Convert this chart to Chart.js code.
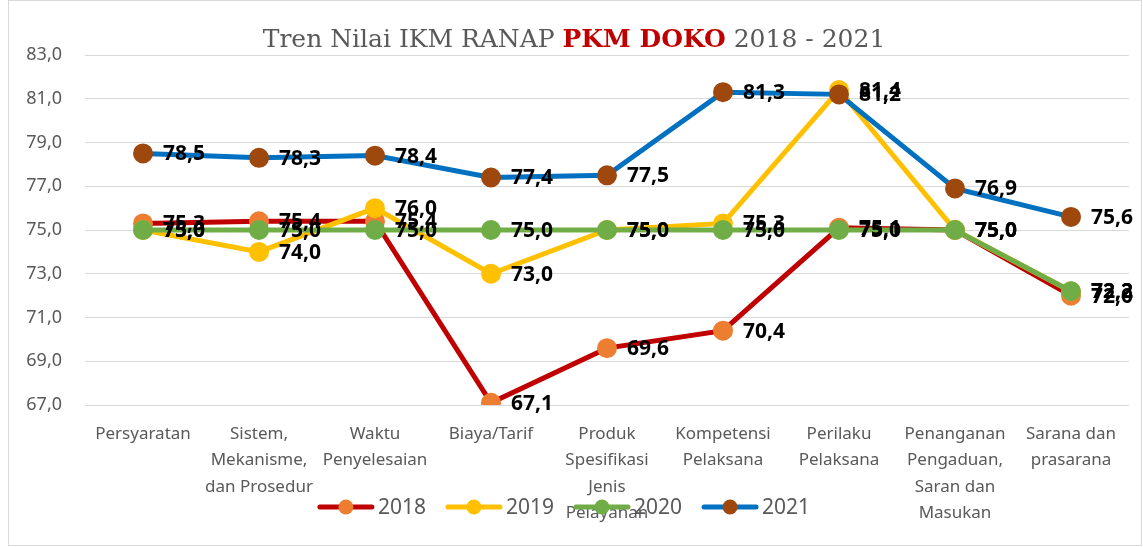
<!DOCTYPE html>
<html>
<head>
<meta charset="utf-8">
<script src="https://cdn.jsdelivr.net/npm/chart.js@4"></script>
<style>
  html, body { margin: 0; padding: 0; background: #fff; }
</style>
</head>
<body>
<canvas id="chart" width="1143" height="547"></canvas>
<script>
const categories = [
  ['Persyaratan'],
  ['Sistem,', 'Mekanisme,', 'dan Prosedur'],
  ['Waktu', 'Penyelesaian'],
  ['Biaya/Tarif'],
  ['Produk', 'Spesifikasi', 'Jenis', 'Pelayanan'],
  ['Kompetensi', 'Pelaksana'],
  ['Perilaku', 'Pelaksana'],
  ['Penanganan', 'Pengaduan,', 'Saran dan', 'Masukan'],
  ['Sarana dan', 'prasarana']
];
const years = ['2018', '2019', '2020', '2021'];
const values2018 = [75.3, 75.4, 75.4, 67.1, 69.6, 70.4, 75.1, 75.0, 72.0];
const values2019 = [75.0, 74.0, 76.0, 73.0, 75.0, 75.3, 81.4, 75.0, 72.2];
const values2020 = [75.0, 75.0, 75.0, 75.0, 75.0, 75.0, 75.0, 75.0, 72.2];
const values2021 = [78.5, 78.3, 78.4, 77.4, 77.5, 81.3, 81.2, 76.9, 75.6];
const yMin = 67, yMax = 83, yStep = 2;

const lineColors = ['#C00000', '#FFC000', '#70AD47', '#0070C0'];
const markerColors = ['#ED7D31', '#FFC000', '#70AD47', '#9E480E'];
const allValues = [values2018, values2019, values2020, values2021];

const fmt = v => v.toFixed(1).replace('.', ',');

const datasets = years.map((y, i) => ({
  label: y,
  data: allValues[i],
  borderColor: lineColors[i],
  backgroundColor: markerColors[i],
  pointBackgroundColor: markerColors[i],
  pointBorderColor: markerColors[i],
  borderWidth: 5,
  pointRadius: 7.5,
  pointHoverRadius: 7.5,
  tension: 0,
  order: 3 - i
}));

const extras = {
  id: 'extras',
  afterDatasetsDraw(chart) {
    const ctx = chart.ctx;
    ctx.save();
    ctx.font = 'bold 21px "Noto Sans"';
    ctx.fillStyle = '#000';
    ctx.textBaseline = 'middle';
    ctx.textAlign = 'left';
    chart.data.datasets.forEach((ds, i) => {
      chart.getDatasetMeta(i).data.forEach((pt, j) => {
        ctx.fillText(fmt(ds.data[j]), pt.x + 20, pt.y + 1);
      });
    });
    ctx.restore();
  },
  afterDraw(chart) {
    const ctx = chart.ctx;
    ctx.save();
    // border
    ctx.strokeStyle = '#d9d9d9';
    ctx.lineWidth = 1;
    ctx.strokeRect(8.5, 0.5, 1133, 545);

    // title
    const parts = [
      { t: 'Tren Nilai IKM RANAP ', f: '25px "DejaVu Serif"', c: '#595959' },
      { t: 'PKM DOKO', f: 'bold 25px "DejaVu Serif"', c: '#C00000' },
      { t: ' 2018 - 2021', f: '25px "DejaVu Serif"', c: '#595959' }
    ];
    let total = 0;
    parts.forEach(p => { ctx.font = p.f; p.w = ctx.measureText(p.t).width; total += p.w; });
    let x = 574 - total / 2;
    ctx.textBaseline = 'middle';
    ctx.textAlign = 'left';
    parts.forEach(p => {
      ctx.font = p.f; ctx.fillStyle = p.c;
      ctx.fillText(p.t, x, 40);
      x += p.w;
    });

    // legend
    ctx.font = '21px "Noto Sans"';
    const ly = 507;
    const items = years.map((y, i) => ({ y, i, w: 52 + 6 + ctx.measureText(y).width }));
    const gap = 22;
    let lw = items.reduce((s, it) => s + it.w, 0) + gap * (items.length - 1);
    let lx = 565 - lw / 2;
    items.forEach(it => {
      ctx.strokeStyle = lineColors[it.i];
      ctx.lineWidth = 5;
      ctx.lineCap = 'round';
      ctx.beginPath();
      ctx.moveTo(lx, ly); ctx.lineTo(lx + 52, ly);
      ctx.stroke();
      ctx.fillStyle = markerColors[it.i];
      ctx.beginPath();
      ctx.arc(lx + 26, ly, 7.5, 0, Math.PI * 2);
      ctx.fill();
      ctx.fillStyle = '#595959';
      ctx.fillText(it.y, lx + 58, ly + 1);
      lx += it.w + gap;
    });
    ctx.restore();
  }
};

new Chart(document.getElementById('chart').getContext('2d'), {
  type: 'line',
  data: { labels: categories, datasets: datasets },
  options: {
    responsive: false,
    animation: false,
    layout: { padding: { top: 55, right: 14, bottom: 12, left: 0 } },
    plugins: {
      legend: { display: false },
      tooltip: { enabled: false }
    },
    scales: {
      x: {
        offset: true,
        grid: { display: false },
        border: { display: false },
        ticks: {
          color: '#595959',
          font: { family: 'Noto Sans', size: 17, lineHeight: 1.55 },
          padding: 8,
          maxRotation: 0,
          autoSkip: false
        },
        afterFit(scale) { scale.height = 130; }
      },
      y: {
        min: yMin,
        max: yMax,
        grid: { color: '#d9d9d9', lineWidth: 1, drawTicks: false },
        border: { display: false },
        ticks: {
          stepSize: yStep,
          color: '#595959',
          font: { family: 'Noto Sans', size: 18 },
          padding: 23,
          callback: v => fmt(v)
        },
        afterFit(scale) { scale.width = 85; }
      }
    }
  },
  plugins: [extras]
});
</script>
</body>
</html>
